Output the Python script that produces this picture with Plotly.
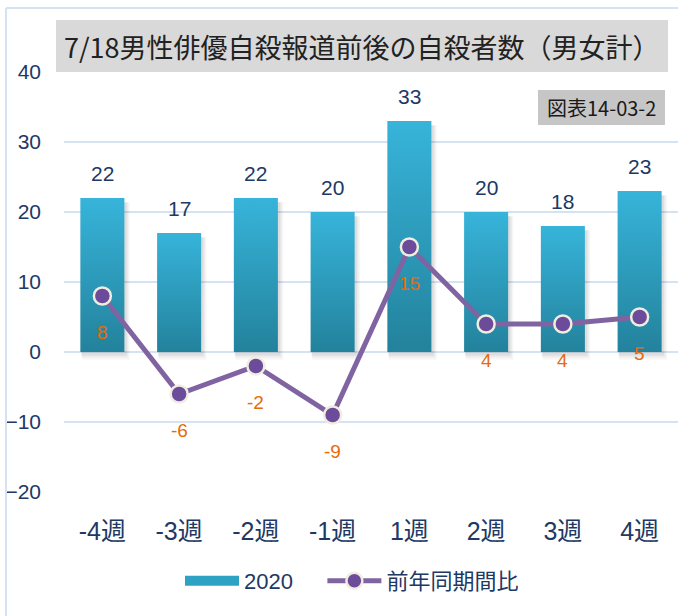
import plotly.graph_objects as go

# --- data ---
weeks = ["-4週", "-3週", "-2週", "-1週", "1週", "2週", "3週", "4週"]
suicides_2020 = [22, 17, 22, 20, 33, 20, 18, 23]
yoy_change = [8, -6, -2, -9, 15, 4, 4, 5]
y_ticks = [-20, -10, 0, 10, 20, 30, 40]

TITLE = "7/18男性俳優自殺報道前後の自殺者数（男女計）"
TAG = "図表14-03-2"

# --- layout geometry (pixels) ---
W_PX, H_PX = 684, 616
L, R, T, B = 64, 6, 72, 124
PW, PH = W_PX - L - R, H_PX - T - B


def px(x):
    return (x - L) / PW


def py(y):
    return (H_PX - B - y) / PH


BAR_HALF = 0.287
NAVY = "#203864"
ORANGE = "#E46C0A"
PURPLE = "#8064A2"
TEAL = "#2EA2C3"
FONT = "Liberation Sans, Noto Sans CJK JP, sans-serif"
CJK = "Noto Sans CJK JP, sans-serif"

fig = go.Figure()

# soft bar shadows (stacked translucent layers)
for dx, dy, a in [(0.07, 1.1, 0.035), (0.05, 0.8, 0.045), (0.03, 0.5, 0.06)]:
    for i, v in enumerate(suicides_2020):
        x0, x1 = i - BAR_HALF + dx * 0.3, i + BAR_HALF + dx
        fig.add_trace(go.Scatter(
            x=[x0, x1, x1, x0, x0], y=[-dy, -dy, v - 0.6, v - 0.6, -dy],
            mode="lines", fill="toself", fillcolor=f"rgba(0,0,0,{a})",
            line=dict(width=0), hoverinfo="skip", showlegend=False,
        ))

# bars with vertical gradient, one trace per bar
for i, v in enumerate(suicides_2020):
    x0, x1 = i - BAR_HALF, i + BAR_HALF
    fig.add_trace(go.Scatter(
        x=[x0, x1, x1, x0, x0], y=[0, 0, v, v, 0],
        mode="lines", fill="toself",
        fillgradient=dict(type="vertical", start=0, stop=v,
                          colorscale=[[0, "#23829C"], [1, "#37B4DA"]]),
        line=dict(width=0), hoverinfo="skip", showlegend=False,
    ))

# legend entry for the bars
fig.add_trace(go.Scatter(
    x=[None], y=[None], mode="lines", name="2020\u00a0\u00a0\u00a0\u00a0",
    line=dict(color=TEAL, width=13),
))

# year-on-year line
fig.add_trace(go.Scatter(
    x=list(range(len(weeks))), y=yoy_change, mode="lines+markers",
    name="前年同期間比",
    line=dict(color=PURPLE, width=5),
    marker=dict(size=17, color="#6C4C9A", line=dict(color="#EFECE0", width=2.5)),
))

annotations = []
# bar value labels
for i, v in enumerate(suicides_2020):
    annotations.append(dict(
        x=i, y=v, xref="x", yref="y", text=str(v), showarrow=False,
        yshift=25, font=dict(size=21, color=NAVY, family=FONT),
    ))
# line value labels
for i, v in enumerate(yoy_change):
    annotations.append(dict(
        x=i, y=v, xref="x", yref="y", text=str(v), showarrow=False,
        yshift=-36, font=dict(size=19, color=ORANGE, family=FONT),
    ))
# title and tag
annotations.append(dict(
    x=px((56 + 668) / 2), y=py(46), xref="paper", yref="paper",
    xanchor="center", yanchor="middle",
    text=TITLE, showarrow=False, font=dict(size=27, color="#222222", family=CJK),
))
annotations.append(dict(
    x=px((538 + 665) / 2), y=py(107.5), xref="paper", yref="paper",
    xanchor="center", yanchor="middle",
    text=TAG, showarrow=False, font=dict(size=20, color="#1A1A1A", family=CJK),
))

shapes = [
    # chart frame
    dict(type="line", xref="paper", yref="paper", x0=px(6), x1=px(6), y0=py(8), y1=py(616),
         line=dict(color="#D5E2F2", width=2)),
    dict(type="line", xref="paper", yref="paper", x0=px(6), x1=px(678), y0=py(8), y1=py(8),
         line=dict(color="#D5E2F2", width=2)),
    # title box
    dict(type="rect", xref="paper", yref="paper", x0=px(56), x1=px(668), y0=py(72), y1=py(20),
         fillcolor="#D9D9D9", line=dict(width=0), layer="above"),
    # tag box
    dict(type="rect", xref="paper", yref="paper", x0=px(538), x1=px(665), y0=py(125), y1=py(90),
         fillcolor="#C6C6C6", line=dict(width=0), layer="above"),
]

fig.update_layout(
    width=W_PX, height=H_PX,
    margin=dict(l=L, r=R, t=T, b=B),
    paper_bgcolor="white", plot_bgcolor="white",
    font=dict(family=FONT, color=NAVY),
    xaxis=dict(
        range=[-0.5, len(weeks) - 0.5], tickvals=list(range(len(weeks))), ticktext=weeks,
        showgrid=False, zeroline=False, showline=False, ticks="",
        tickfont=dict(size=25, color=NAVY, family=FONT), ticklabelstandoff=22,
    ),
    yaxis=dict(
        range=[-20, 40], tickvals=y_ticks, showgrid=True, gridcolor="#D5E2F2", gridwidth=1.5,
        zeroline=False, showline=False, ticks="",
        tickfont=dict(size=21, color=NAVY, family=FONT), ticklabelstandoff=22,
    ),
    legend=dict(
        orientation="h", x=px(352), xanchor="center", y=py(581), yanchor="middle",
        font=dict(size=22, color=NAVY, family=FONT), itemwidth=54,
        bgcolor="rgba(0,0,0,0)",
    ),
    annotations=annotations,
    shapes=shapes,
    showlegend=True,
)

fig.write_html("out.html")
